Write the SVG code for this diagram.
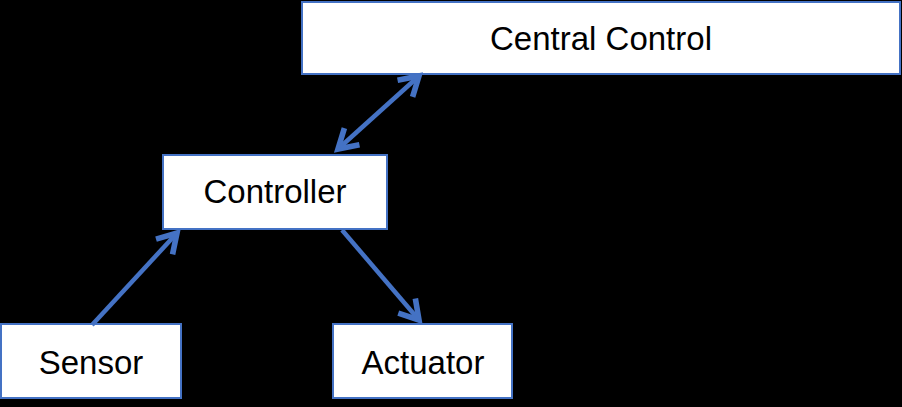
<svg xmlns="http://www.w3.org/2000/svg" width="902" height="407" viewBox="0 0 902 407">
<style>
.box{fill:#ffffff;stroke:#4472C4;stroke-width:2}
.lbl{font-family:"Liberation Sans",Arial,sans-serif;font-size:33px;fill:#000000;text-anchor:middle}
.con{stroke:#4472C4;stroke-width:4.5;fill:none}
</style>
<defs>
<marker id="arr" markerUnits="userSpaceOnUse" markerWidth="30" markerHeight="30" viewBox="-20 -12 24 24" refX="0" refY="0" orient="auto-start-reverse">
<path d="M-15,-9 L0,0 L-15,9" fill="none" stroke="#4472C4" stroke-width="4.5" stroke-linejoin="miter"/>
</marker>
</defs>
<rect x="0" y="0" width="902" height="407" fill="#000000"/>
<g id="central-control">
<rect class="box" x="302" y="2" width="598" height="72"/>
<text class="lbl" x="601" y="50">Central Control</text>
</g>
<g id="controller">
<rect class="box" x="163" y="155" width="224" height="74"/>
<text class="lbl" x="275" y="203">Controller</text>
</g>
<g id="sensor">
<rect class="box" x="1" y="324" width="180" height="74"/>
<text class="lbl" x="91" y="374">Sensor</text>
</g>
<g id="actuator">
<rect class="box" x="333" y="324" width="179" height="74"/>
<text class="lbl" x="423" y="374">Actuator</text>
</g>
<g id="connectors">
<line class="con" x1="92" y1="325" x2="177" y2="233" marker-end="url(#arr)"/>
<line class="con" x1="342" y1="230" x2="419" y2="320" marker-end="url(#arr)"/>
<line class="con" x1="338" y1="149" x2="419" y2="76" marker-start="url(#arr)" marker-end="url(#arr)"/>
</g>
</svg>
